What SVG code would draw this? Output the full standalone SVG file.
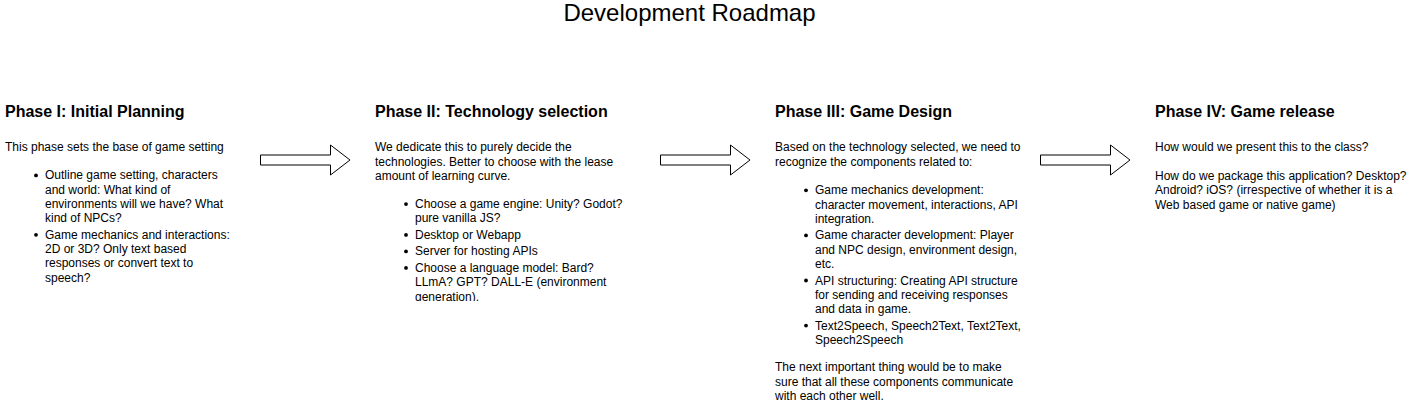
<svg xmlns="http://www.w3.org/2000/svg" width="1410" height="400" viewBox="0 0 1410 400">
<style>
text{font-family:"Liberation Sans",Arial,sans-serif;fill:#000}
.title{font-size:24px;text-anchor:middle}
.h{font-size:16px;font-weight:bold}
.t{font-size:12px}
.dot{fill:#000}
.arrow{fill:#fff;stroke:#000;stroke-width:1}
</style>
<defs>
<clipPath id="clip2"><rect x="370" y="95" width="290" height="206"/></clipPath>
<path id="arr" d="M0.5,15.5 H70.5 V5.5 L90,20.5 L70.5,35.5 V25.5 H0.5 Z"/>
</defs>
<rect width="1410" height="400" fill="#fff"/>
<text class="title" x="689.5" y="21">Development Roadmap</text>

<g id="connectors">
<use href="#arr" class="arrow" x="260" y="139.5"/>
<use href="#arr" class="arrow" x="660" y="139.5"/>
<use href="#arr" class="arrow" x="1040" y="139.5"/>
</g>

<g id="phase1">
<text class="h" x="5" y="117">Phase I: Initial Planning</text>
<text class="t" x="5" y="151.3">This phase sets the base of game setting</text>
<circle class="dot" cx="36" cy="175.4" r="1.9"/>
<text class="t" x="45" y="179.4">Outline game setting, characters</text>
<text class="t" x="45" y="193.7">and world: What kind of</text>
<text class="t" x="45" y="208">environments will we have? What</text>
<text class="t" x="45" y="222.3">kind of NPCs?</text>
<circle class="dot" cx="36" cy="234.8" r="1.9"/>
<text class="t" x="45" y="238.8">Game mechanics and interactions:</text>
<text class="t" x="45" y="253.1">2D or 3D? Only text based</text>
<text class="t" x="45" y="267.4">responses or convert text to</text>
<text class="t" x="45" y="281.7">speech?</text>
</g>

<g id="phase2">
<text class="h" x="375" y="117">Phase II: Technology selection</text>
<g clip-path="url(#clip2)">
<text class="t" x="375" y="151.3">We dedicate this to purely decide the</text>
<text class="t" x="375" y="165.6">technologies. Better to choose with the lease</text>
<text class="t" x="375" y="179.9">amount of learning curve.</text>
<circle class="dot" cx="406" cy="204.1" r="1.9"/>
<text class="t" x="415" y="208.1">Choose a game engine: Unity? Godot?</text>
<text class="t" x="415" y="222.4">pure vanilla JS?</text>
<circle class="dot" cx="406" cy="234.9" r="1.9"/>
<text class="t" x="415" y="238.9">Desktop or Webapp</text>
<circle class="dot" cx="406" cy="251.4" r="1.9"/>
<text class="t" x="415" y="255.4">Server for hosting APIs</text>
<circle class="dot" cx="406" cy="267.9" r="1.9"/>
<text class="t" x="415" y="271.9">Choose a language model: Bard?</text>
<text class="t" x="415" y="286.2">LLmA? GPT? DALL-E (environment</text>
<text class="t" x="415" y="300.5">generation).</text>
</g>
</g>

<g id="phase3">
<text class="h" x="775" y="117">Phase III: Game Design</text>
<text class="t" x="775" y="151.3">Based on the technology selected, we need to</text>
<text class="t" x="775" y="165.6">recognize the components related to:</text>
<circle class="dot" cx="806" cy="190.3" r="1.9"/>
<text class="t" x="815" y="194.3">Game mechanics development:</text>
<text class="t" x="815" y="208.6">character movement, interactions, API</text>
<text class="t" x="815" y="222.9">integration.</text>
<circle class="dot" cx="806" cy="235.4" r="1.9"/>
<text class="t" x="815" y="239.4">Game character development: Player</text>
<text class="t" x="815" y="253.7">and NPC design, environment design,</text>
<text class="t" x="815" y="268">etc.</text>
<circle class="dot" cx="806" cy="280.5" r="1.9"/>
<text class="t" x="815" y="284.5">API structuring: Creating API structure</text>
<text class="t" x="815" y="298.8">for sending and receiving responses</text>
<text class="t" x="815" y="313.1">and data in game.</text>
<circle class="dot" cx="806" cy="325.6" r="1.9"/>
<text class="t" x="815" y="329.6">Text2Speech, Speech2Text, Text2Text,</text>
<text class="t" x="815" y="343.9">Speech2Speech</text>
<text class="t" x="775" y="371.2">The next important thing would be to make</text>
<text class="t" x="775" y="385.5">sure that all these components communicate</text>
<text class="t" x="775" y="399.6">with each other well.</text>
</g>

<g id="phase4">
<text class="h" x="1155" y="117">Phase IV: Game release</text>
<text class="t" x="1155" y="151.3">How would we present this to the class?</text>
<text class="t" x="1155" y="179.9">How do we package this application? Desktop?</text>
<text class="t" x="1155" y="194.2">Android? iOS? (irrespective of whether it is a</text>
<text class="t" x="1155" y="208.5">Web based game or native game)</text>
</g>
</svg>
